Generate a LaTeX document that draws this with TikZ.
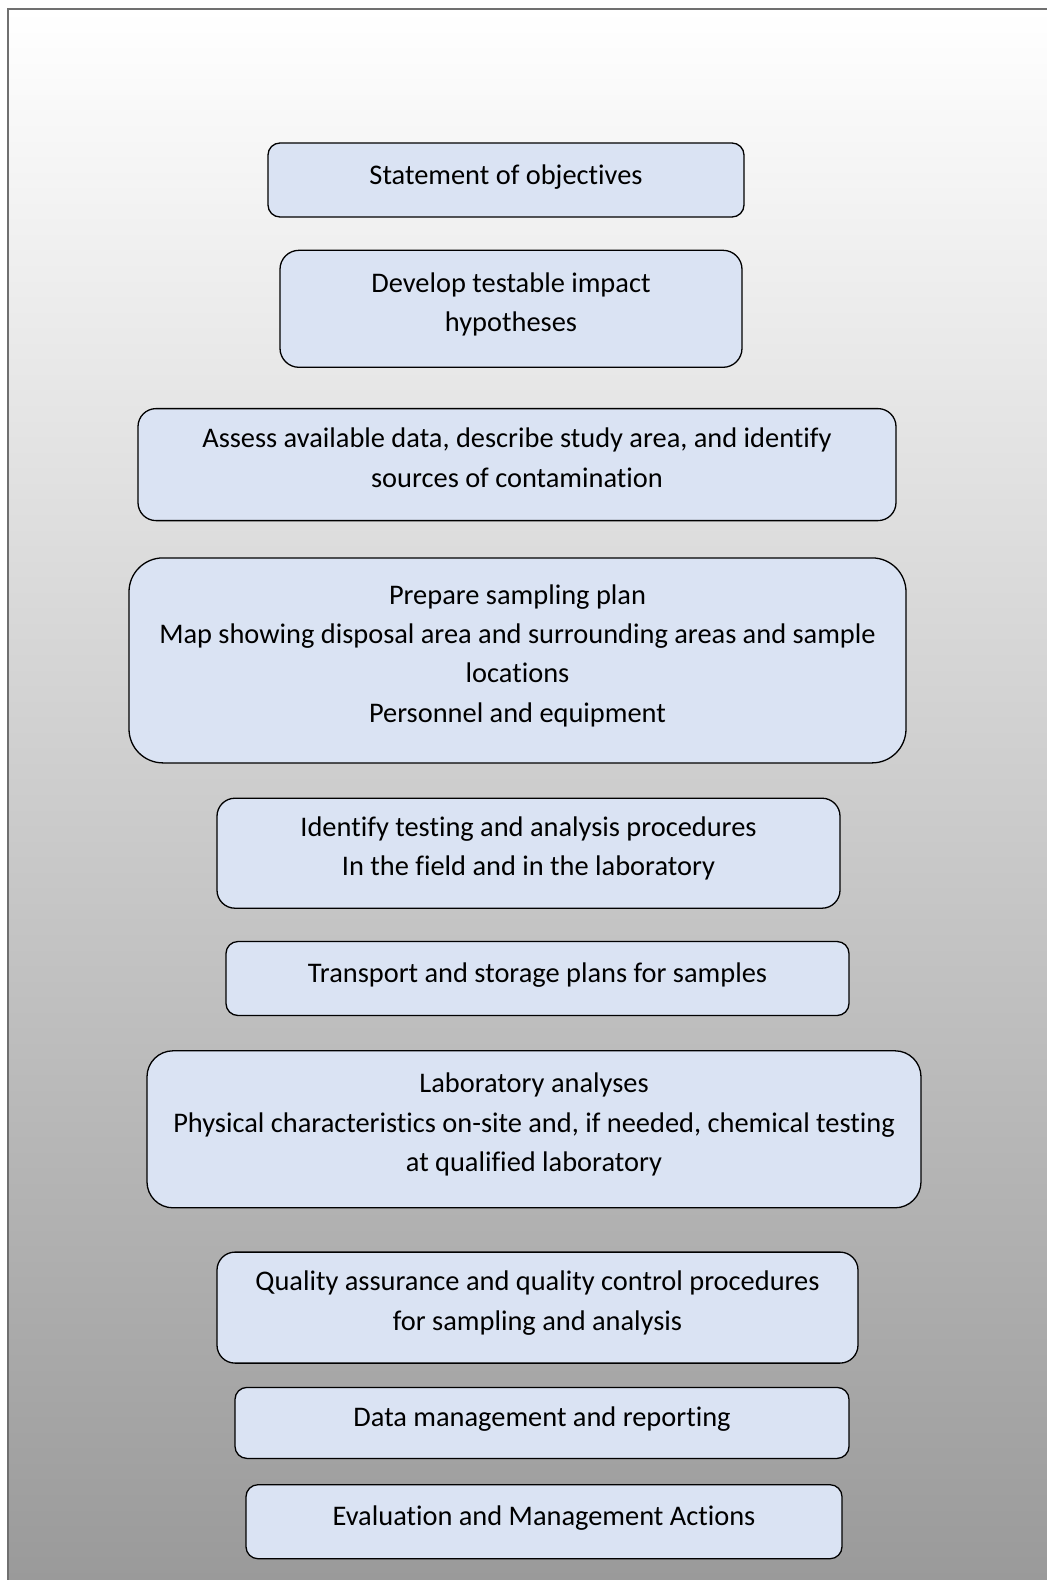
\documentclass[tikz,border=0pt]{standalone}
\usepackage{fontspec}
\setmainfont[Ligatures={NoCommon,NoContextual,NoRequired}, RawFeature=-liga, RawFeature=-calt, RawFeature=-ccmp, RawFeature=-rlig]{Carlito}
\usetikzlibrary{positioning}
\definecolor{boxblue}{HTML}{DAE3F3}
\definecolor{framegray}{HTML}{707070}
\definecolor{shadegray}{HTML}{9A9A9A}
\tikzset{
  stage/.style={draw, rounded corners=#1, fill=boxblue, line width=0.65pt, align=center, inner sep=0pt,
    font=\fontsize{14.2pt}{19.65pt}\selectfont,
    execute at begin node={\rule{0pt}{11pt}}, execute at end node={\rule[-7pt]{0pt}{7pt}}},
}

\begin{document}
\begin{tikzpicture}
\useasboundingbox (0,0) rectangle (523.5pt,-790pt);
% page background and frame
\shade[top color=white, bottom color=shadegray] (4pt,-4.5pt) rectangle (523.5pt,-790pt);
\draw[framegray, line width=1.25pt] (4pt,-790pt) -- (4pt,-4.5pt) -- (523.5pt,-4.5pt);

\node (objectives) [stage=6pt, minimum width=238pt, minimum height=37pt] at (253pt,-90pt) {Statement of objectives};
\node (hypotheses) [stage=9.5pt, minimum width=231pt, minimum height=58.5pt, below=16pt of objectives, xshift=2.5pt] {Develop testable impact\\hypotheses};
\node (assess) [stage=9pt, minimum width=379pt, minimum height=56pt, below=20pt of hypotheses, xshift=3pt] {Assess available data, describe study area, and identify\\sources of contamination};
\node (plan) [stage=17pt, minimum width=388.5pt, minimum height=102.5pt, below=18pt of assess, xshift=0.25pt] {Prepare sampling plan\\Map showing disposal area and surrounding areas and sample\\locations\\Personnel and equipment};
\node (procedures) [stage=9pt, minimum width=311.5pt, minimum height=55pt, below=17pt of plan, xshift=5.5pt] {Identify testing and analysis procedures\\In the field and in the laboratory};
\node (transport) [stage=6pt, minimum width=311.5pt, minimum height=37pt, below=16pt of procedures, xshift=4.5pt] {Transport and storage plans for samples};
\node (lab) [stage=13pt, minimum width=387pt, minimum height=78.5pt, below=17pt of transport, xshift=-1.75pt] {Laboratory analyses\\Physical characteristics on-site and, if needed, chemical testing\\at qualified laboratory};
\node (qaqc) [stage=9pt, minimum width=320.5pt, minimum height=55.5pt, below=21.5pt of lab, xshift=1.75pt] {Quality assurance and quality control procedures\\for sampling and analysis};
\node (data) [stage=6pt, minimum width=307pt, minimum height=35.5pt, below=11.5pt of qaqc, xshift=2.25pt] {Data management and reporting};
\node (evaluation) [stage=6pt, minimum width=298pt, minimum height=37pt, below=12.5pt of data, xshift=1pt] {Evaluation and Management Actions};
\end{tikzpicture}
\end{document}
